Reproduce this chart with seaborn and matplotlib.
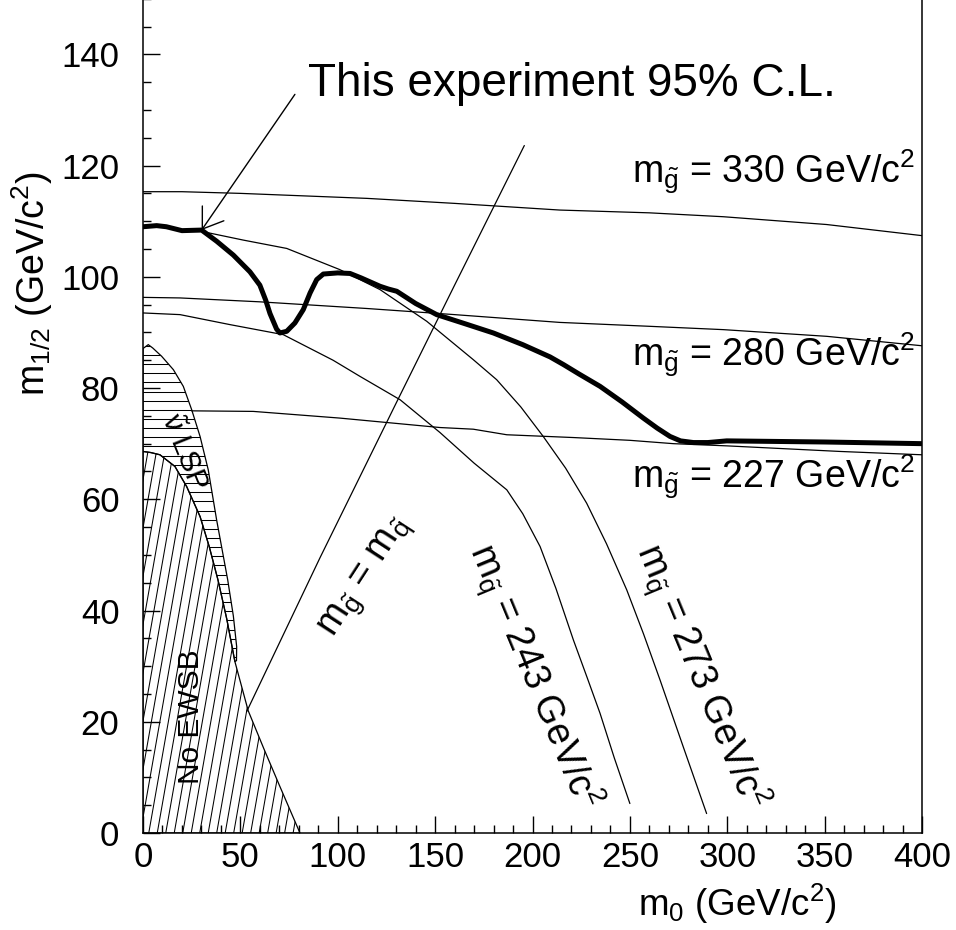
import numpy as np
import matplotlib
matplotlib.use("Agg")
import matplotlib.pyplot as plt
import seaborn as sns
from matplotlib.patches import Polygon

# ---------------- data ----------------
# 95% C.L. exclusion contour (thick)
cl_x = [0, 7, 12, 20, 30.1, 37.8, 46.4, 54.9, 60, 63, 65.2, 68.6, 70.3, 73.8, 78, 82.3,
        85.8, 89.2, 92.6, 100, 106.3, 112, 121.7, 126, 130.3, 140, 150.8, 165, 179.9,
        195, 209, 216, 224, 234.7, 246, 256.9, 264, 270.6, 276, 282.6, 290, 299.7, 350, 400]
cl_y = [109.0, 109.2, 109.0, 108.3, 108.4, 106.4, 103.9, 100.9, 98.5, 95.8, 93.4, 90.6,
        89.9, 90.2, 91.7, 94.1, 97.1, 99.5, 100.5, 100.7, 100.6, 99.8, 98.3, 97.8, 97.4,
        95.2, 93.2, 91.6, 89.9, 87.8, 85.6, 84.2, 82.5, 80.3, 77.5, 74.6, 72.8, 71.3,
        70.5, 70.2, 70.2, 70.5, 70.3, 70.0]

# gluino iso-mass lines
g330_x = [0, 20, 50, 115, 160, 214, 260, 298, 351, 400]
g330_y = [115.3, 115.3, 115.0, 114.1, 113.2, 112.0, 111.5, 110.8, 109.4, 107.4]
g280_x = [0, 19, 60, 115, 160, 214, 260, 298, 351, 400]
g280_y = [96.3, 96.2, 95.5, 94.3, 93.2, 91.8, 91.1, 90.5, 89.3, 87.6]
g227_x = [25, 56.6, 101, 152.5, 169.6, 186.8, 221, 250, 272.3, 300, 357.9, 400]
g227_y = [75.9, 75.8, 74.6, 72.9, 72.6, 71.6, 71.1, 70.6, 70.0, 69.6, 68.6, 68.0]

# squark iso-mass lines
q243_x = [0, 19, 44.7, 72, 97.6, 111.4, 132, 152.5, 170, 186.8, 195, 203.9, 212, 221,
          228, 234.7, 242, 250]
q243_y = [93.5, 93.2, 91.4, 89.6, 85.0, 82.1, 77.9, 72.0, 66.5, 61.7, 57.4, 51.5, 44.0,
          34.7, 28.0, 21.5, 13.5, 5.3]
q273_x = [31, 51.5, 73.8, 101, 121.7, 145.7, 169.6, 181.6, 194, 205.5, 217, 227.8, 238,
          248.4, 257, 265.5, 277.4, 289.4]
q273_y = [108.1, 106.6, 105.1, 101.3, 97.7, 92.0, 85.1, 81.5, 76.6, 71.3, 65.6, 59.3,
          52.0, 43.7, 35.8, 27.5, 15.5, 3.5]

# m_gluino = m_squark line
eq_x = [53.2, 90.9, 130, 160, 195.8]
eq_y = [21.8, 49.5, 77.3, 98.5, 123.6]

# No EWSB boundary
ewsb_x = [0, 4, 8.7, 16.4, 22.4, 29.3, 34, 38.5, 43, 47.2, 54, 62, 70, 80.6]
ewsb_y = [68.6, 68.4, 68.0, 65.9, 62.3, 56.9, 51.5, 45.5, 38.5, 30.8, 22.0, 15.2, 8.6, 0]

# sneutrino LSP outer boundary
lsp_x = [0, 2.7, 5, 9.6, 15.6, 20.7, 25, 29.3, 33.5, 37.8, 43.5, 46.4, 48.1, 48.0, 47.2]
lsp_y = [87.1, 87.8, 87.2, 85.7, 83.3, 80.3, 76.1, 71.3, 65.3, 56.3, 45.5, 39.0, 33.5, 31.0, 30.8]

x_ticks = [0, 50, 100, 150, 200, 250, 300, 350, 400]
y_ticks = [0, 20, 40, 60, 80, 100, 120, 140]

# ---------------- style ----------------
sns.set_theme(style="white")
plt.rcParams["font.family"] = ["Liberation Sans", "DejaVu Sans"]
plt.rcParams["mathtext.fontset"] = "custom"
plt.rcParams["mathtext.rm"] = "Liberation Sans"
plt.rcParams["mathtext.it"] = "Liberation Sans:italic"
plt.rcParams["mathtext.sf"] = "Liberation Sans"
plt.rcParams["mathtext.bf"] = "Liberation Sans:bold"
for k in ["text.color", "axes.labelcolor", "xtick.color", "ytick.color", "axes.edgecolor"]:
    plt.rcParams[k] = "black"

fig = plt.figure(figsize=(9.56, 9.30), dpi=100)
ax = fig.add_axes([143 / 956, 97 / 930, 779 / 956, 834.3 / 930])
ax.set_facecolor("white")

thin = 0.9
for xs, ys in [(g330_x, g330_y), (g280_x, g280_y), (g227_x, g227_y),
               (q243_x, q243_y), (q273_x, q273_y), (eq_x, eq_y)]:
    sns.lineplot(x=xs, y=ys, ax=ax, color="black", lw=thin, sort=False, estimator=None)

sns.lineplot(x=cl_x, y=cl_y, ax=ax, color="black", lw=3.6, sort=False, estimator=None)

# hatched regions
ewsb_poly = Polygon(np.column_stack([[0] + ewsb_x + [80.6, 0], [0] + ewsb_y + [0, 0]]),
                    closed=True, facecolor="none", edgecolor="black", lw=thin)
ax.add_patch(ewsb_poly)
lsp_pts = np.column_stack([lsp_x + ewsb_x[:10][::-1], lsp_y + ewsb_y[:10][::-1]])
lsp_poly = Polygon(lsp_pts, closed=True, facecolor="none", edgecolor="black", lw=thin)
ax.add_patch(lsp_poly)

# diagonal hatch for No EWSB (steep lines)
slope = 1.99
for x0 in np.arange(-45, 90, 4.36):
    ln, = ax.plot([x0, x0 + 90 / slope], [0, 90], color="black", lw=0.75)
    ln.set_clip_path(ewsb_poly)
# horizontal hatch for sneutrino LSP
for y0 in np.arange(69.5 - 1.646 * 25, 90, 1.646):
    ln, = ax.plot([0, 60], [y0, y0], color="black", lw=0.75)
    ln.set_clip_path(lsp_poly)

ax.set_xlim(0, 400)
ax.set_ylim(0, 150)
ax.set_xticks(x_ticks)
ax.set_yticks(y_ticks)
ax.set_xticks(np.arange(0, 401, 10), minor=True)
ax.set_yticks(np.arange(0, 151, 5), minor=True)
ax.tick_params(axis="both", which="both", direction="in", colors="black",
               top=False, right=False, bottom=True, left=True)
ax.tick_params(axis="both", which="major", length=12, width=1.0, labelsize=25)
ax.tick_params(axis="both", which="minor", length=6, width=1.0)
ax.tick_params(axis="x", which="major", pad=6)
ax.tick_params(axis="y", which="major", pad=17)
for s in ["left", "bottom", "right"]:
    ax.spines[s].set_visible(True)
    ax.spines[s].set_color("black")
    ax.spines[s].set_linewidth(1.1)
ax.spines["top"].set_visible(False)

ax.set_xlabel(r"$\mathregular{m_0}$ (GeV/c$^\mathregular{2}$)", fontsize=26.5, ha="right")
ax.xaxis.set_label_coords((836 - 143) / 779, -0.059)
ax.set_ylabel(r"$\mathregular{m_{1/2}}$ (GeV/c$^\mathregular{2}$)", fontsize=27)
ax.yaxis.set_label_coords(-0.113, 0.6586)

# texts
ax.text(84.8, 132.5, "This experiment 95% C.L.", fontsize=33, ha="left", va="baseline")
ax.annotate("", xy=(30.1, 108.4), xytext=(78, 132.8),
            arrowprops=dict(arrowstyle="->,head_length=1.37,head_width=0.94",
                            color="black", lw=1.0, shrinkA=0, shrinkB=0, mutation_scale=10))

mg = r"$\mathregular{m_{\tilde{g}}}$"
mq = r"$\mathregular{m_{\tilde{q}}}$"
c2 = r"GeV/c$^\mathregular{2}$"
for lbl, yb in [("330", 117.0), ("280", 84.0), ("227", 62.0)]:
    ax.text(396.4, yb, mg + " = " + lbl + " " + c2,
            fontsize=27, ha="right", va="baseline")

ax.text(114.5, 46, mg + " = " + mq, fontsize=27,
        rotation=57, ha="center", va="center", rotation_mode="anchor")
ax.text(200.3, 28.2, mq + " = 243 " + c2, fontsize=27,
        rotation=-67.5, ha="center", va="center", rotation_mode="anchor")
ax.text(286, 28.2, mq + " = 273 " + c2, fontsize=27,
        rotation=-67.5, ha="center", va="center", rotation_mode="anchor")
ax.text(24.6, 21, "No EWSB", fontsize=21.5, rotation=90, ha="center", va="center",
        rotation_mode="anchor")
ax.text(20.8, 68.4, r"$\mathregular{\tilde{\nu}}$ LSP", fontsize=21.5, rotation=-68,
        ha="center", va="center", rotation_mode="anchor")

fig.savefig("out.png", dpi=100, facecolor="white")
